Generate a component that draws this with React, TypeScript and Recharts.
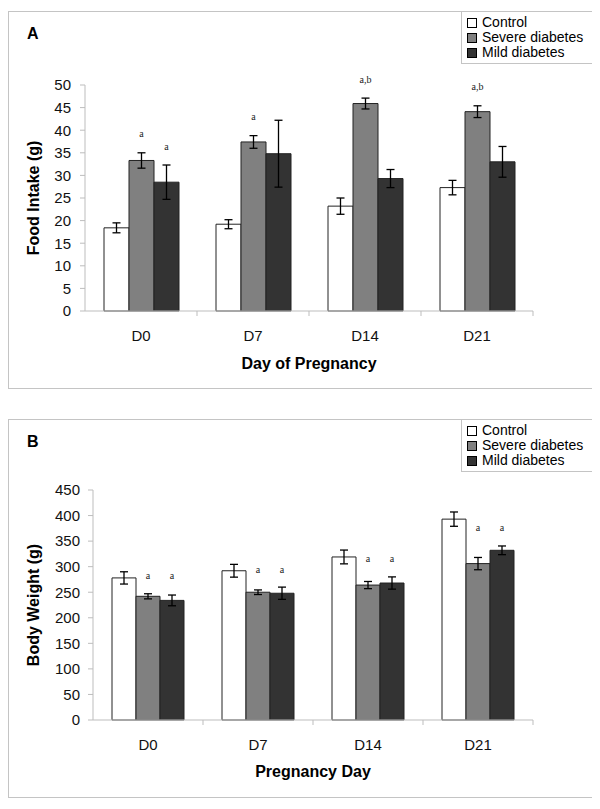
import { BarChart, Bar, XAxis, YAxis, ErrorBar, LabelList } from 'recharts';

const days = ['D0', 'D7', 'D14', 'D21'];
const seriesNames = ['Control', 'Severe diabetes', 'Mild diabetes'];
const seriesColors = ['#ffffff', '#808080', '#333333'];

// Panel A - food intake (g)
const foodControl = [18.4, 19.2, 23.2, 27.3];
const foodControlErr = [1.1, 1.0, 1.8, 1.6];
const foodSevere = [33.3, 37.4, 45.9, 44.1];
const foodSevereErr = [1.7, 1.4, 1.2, 1.3];
const foodMild = [28.5, 34.8, 29.3, 33.0];
const foodMildErr = [3.8, 7.4, 2.0, 3.4];
const foodSevereSig = ['a', 'a', 'a,b', 'a,b'];
const foodMildSig = ['a', '', '', ''];
const foodTicks = [0, 5, 10, 15, 20, 25, 30, 35, 40, 45, 50];

// Panel B - body weight (g)
const weightControl = [278, 292, 319, 393];
const weightControlErr = [12, 12.5, 13.5, 14];
const weightSevere = [242, 250, 264, 306];
const weightSevereErr = [5, 4.5, 7, 12];
const weightMild = [234, 248, 268, 332];
const weightMildErr = [10.5, 12, 12, 8.5];
const weightSevereSig = ['a', 'a', 'a', 'a'];
const weightMildSig = ['a', 'a', 'a', 'a'];
const weightTicks = [0, 50, 100, 150, 200, 250, 300, 350, 400, 450];

const FONT = '"Liberation Sans", Arial, sans-serif';
const AXIS = '#bdbdbd';
const BORDER = '#c4c4c4';

function buildRows(ctrl: number[], ctrlErr: number[], sev: number[], sevErr: number[], mild: number[], mildErr: number[], sevSig: string[], mildSig: string[]) {
    return days.map((day, i) => ({
        day,
        control: ctrl[i],
        controlErr: ctrlErr[i],
        severe: sev[i],
        severeErr: sevErr[i],
        mild: mild[i],
        mildErr: mildErr[i],
        severeSig: sevSig[i],
        mildSig: mildSig[i],
    }));
}

const foodRows = buildRows(foodControl, foodControlErr, foodSevere, foodSevereErr, foodMild, foodMildErr, foodSevereSig, foodMildSig);
const weightRows = buildRows(weightControl, weightControlErr, weightSevere, weightSevereErr, weightMild, weightMildErr, weightSevereSig, weightMildSig);

// significance letter sits a few px above the given peak (value units)
const sigLabel = (vals: number[], peaks: number[], lift: number) => (props: any) => {
    const { x, y, width, height, value, index } = props;
    if (!value) return null;
    const ppu = height / vals[index];
    const base = y + height;
    return (
        <text
            x={x + width / 2}
            y={base - peaks[index] * ppu - lift}
            textAnchor="middle"
            dominantBaseline="central"
            fontFamily='"Liberation Serif", "Times New Roman", serif'
            fontSize={10}
            fill="#222"
        >
            {value}
        </text>
    );
};

const XTick = (props: any) => {
    const { x, y, payload, half } = props;
    return (
        <g>
            <text x={x} y={y + 24} textAnchor="middle" dominantBaseline="central" fontSize={15} fill="#111">
                {payload.value}
            </text>
            <line x1={x + half} x2={x + half} y1={y} y2={y + 5} stroke={AXIS} />
        </g>
    );
};

const YTitle = (props: any) => {
    const { viewBox, text } = props;
    const cx = viewBox.x + 24;
    const cy = viewBox.y + viewBox.height / 2;
    return (
        <text x={cx} y={cy} transform={`rotate(-90, ${cx}, ${cy})`} textAnchor="middle" dominantBaseline="central" fontSize={16} fontWeight="bold" fill="#000">
            {text}
        </text>
    );
};

const XTitle = (props: any) => {
    const { viewBox, text, dy } = props;
    return (
        <text x={viewBox.x + viewBox.width / 2} y={viewBox.y + dy} textAnchor="middle" dominantBaseline="central" fontSize={16} fontWeight="bold" fill="#000">
            {text}
        </text>
    );
};

function LegendBox() {
    return (
        <div style={{ position: 'absolute', top: -1, right: -1, width: 132, height: 53, boxSizing: 'border-box', border: `1px solid ${BORDER}`, background: '#fff', paddingTop: 3, paddingLeft: 5 }}>
            {seriesNames.map((name, i) => (
                <div key={name} style={{ display: 'flex', alignItems: 'center', height: 15, fontSize: 14, lineHeight: '15px', color: '#000', whiteSpace: 'nowrap' }}>
                    <span style={{ width: 10, height: 10, boxSizing: 'border-box', border: '1px solid #000', background: seriesColors[i], marginRight: 5, flexShrink: 0 }} />
                    {name}
                </div>
            ))}
        </div>
    );
}

function Panel({ letter, top, height, rows, ticks, yMax, yTitle, xTitle, plotLeft, plotTop, barSize, half, tickMargin, sevVals, sevPeaks, mildVals, mildPeaks, lift, xTitleDy }: any) {
    const chartW = 583;
    const chartH = height - 2;
    return (
        <div style={{ position: 'absolute', left: 0, top, width: 585, height, boxSizing: 'border-box', border: `1px solid ${BORDER}` }}>
            <div style={{ position: 'absolute', left: 18, top: 13, fontSize: 16, fontWeight: 'bold', lineHeight: '18px' }}>{letter}</div>
            <BarChart
                width={chartW}
                height={chartH}
                data={rows}
                margin={{ top: plotTop, right: 59, bottom: 0, left: 0 }}
                barGap={0}
                barSize={barSize}
            >
                <XAxis
                    dataKey="day"
                    height={77}
                    stroke={AXIS}
                    tickLine={false}
                    tickSize={0}
                    tickMargin={0}
                    tick={(p: any) => <XTick {...p} half={half} />}
                    label={<XTitle text={xTitle} dy={xTitleDy} />}
                />
                <YAxis
                    width={plotLeft}
                    domain={[0, yMax]}
                    ticks={ticks}
                    interval={0}
                    stroke={AXIS}
                    tickSize={5}
                    tickMargin={tickMargin}
                    tick={{ fontSize: 15, fill: '#111' }}
                    label={<YTitle text={yTitle} />}
                />
                <Bar dataKey="control" fill={seriesColors[0]} stroke="#222" strokeWidth={1} isAnimationActive={false}>
                    <ErrorBar dataKey="controlErr" width={4} stroke="#000" strokeWidth={1.3} />
                </Bar>
                <Bar dataKey="severe" fill={seriesColors[1]} stroke="#222" strokeWidth={1} isAnimationActive={false}>
                    <ErrorBar dataKey="severeErr" width={4} stroke="#000" strokeWidth={1.3} />
                    <LabelList dataKey="severeSig" content={sigLabel(sevVals, sevPeaks, lift)} />
                </Bar>
                <Bar dataKey="mild" fill={seriesColors[2]} stroke="#222" strokeWidth={1} isAnimationActive={false}>
                    <ErrorBar dataKey="mildErr" width={4} stroke="#000" strokeWidth={1.3} />
                    <LabelList dataKey="mildSig" content={sigLabel(mildVals, mildPeaks, lift)} />
                </Bar>
            </BarChart>
            <LegendBox />
        </div>
    );
}

export default function App() {
    const foodSevPeaks = foodSevere.map((v, i) => v + foodSevereErr[i]);
    const foodMildPeaks = foodMild.map((v, i) => v + foodMildErr[i]);
    // in panel B both letters of a group share the same height
    const weightPeaks = weightSevere.map((v, i) => Math.max(v + weightSevereErr[i], weightMild[i] + weightMildErr[i]));

    return (
        <div style={{ position: 'relative', width: 585, height: 792, fontFamily: FONT }}>
            <Panel
                letter="A"
                top={3}
                height={378}
                rows={foodRows}
                ticks={foodTicks}
                yMax={50}
                yTitle="Food Intake (g)"
                xTitle="Day of Pregnancy"
                plotLeft={76}
                plotTop={73}
                barSize={25}
                half={56}
                tickMargin={9}
                sevVals={foodSevere}
                sevPeaks={foodSevPeaks}
                mildVals={foodMild}
                mildPeaks={foodMildPeaks}
                lift={19}
                xTitleDy={52}
            />
            <Panel
                letter="B"
                top={411}
                height={379}
                rows={weightRows}
                ticks={weightTicks}
                yMax={450}
                yTitle="Body Weight (g)"
                xTitle="Pregnancy Day"
                plotLeft={84}
                plotTop={70}
                barSize={24}
                half={55}
                tickMargin={8}
                sevVals={weightSevere}
                sevPeaks={weightPeaks}
                mildVals={weightMild}
                mildPeaks={weightPeaks}
                lift={18}
                xTitleDy={51}
            />
        </div>
    );
}
